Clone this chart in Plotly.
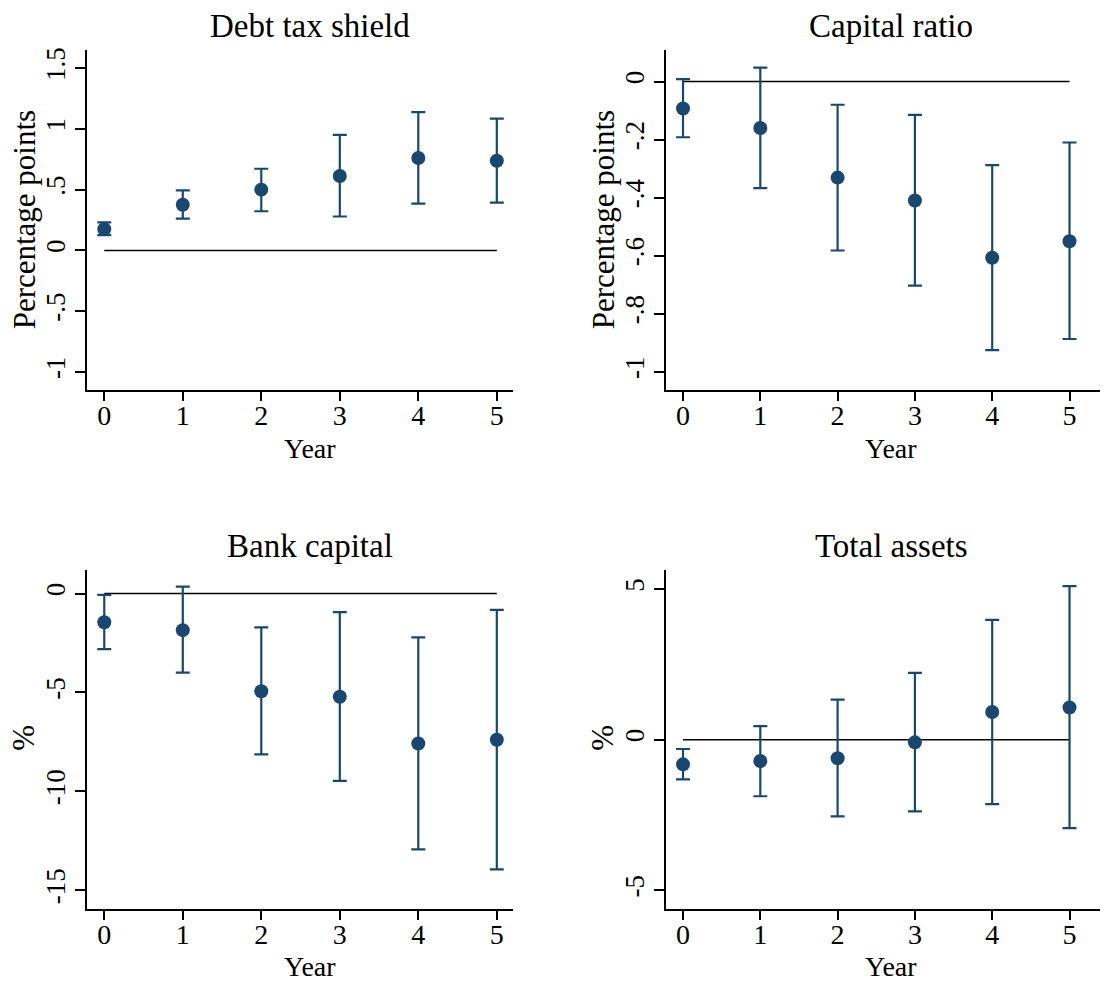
import plotly.graph_objects as go

years = [0, 1, 2, 3, 4, 5]

# Debt tax shield (percentage points)
dts_est = [0.175, 0.375, 0.50, 0.612, 0.76, 0.738]
dts_hi = [0.23, 0.494, 0.672, 0.951, 1.137, 1.085]
dts_lo = [0.125, 0.262, 0.322, 0.279, 0.385, 0.393]

# Capital ratio (percentage points)
cr_est = [-0.093, -0.160, -0.331, -0.410, -0.607, -0.550]
cr_hi = [0.008, 0.048, -0.080, -0.115, -0.288, -0.210]
cr_lo = [-0.192, -0.367, -0.582, -0.703, -0.925, -0.887]

# Bank capital (%)
bc_est = [-1.45, -1.85, -4.94, -5.22, -7.58, -7.39]
bc_hi = [-0.07, 0.35, -1.71, -0.94, -2.22, -0.83]
bc_lo = [-2.81, -4.00, -8.13, -9.47, -12.93, -13.94]

# Total assets (%)
ta_est = [-0.82, -0.71, -0.62, -0.09, 0.92, 1.07]
ta_hi = [-0.31, 0.45, 1.33, 2.22, 3.98, 5.10]
ta_lo = [-1.32, -1.88, -2.55, -2.38, -2.14, -2.94]

titles = ["Debt tax shield", "Capital ratio", "Bank capital", "Total assets"]
ytitles = ["Percentage points", "Percentage points", "%", "%"]

yt1_vals = [-1, -0.5, 0, 0.5, 1, 1.5]
yt1_text = ["-1", "-.5", "0", ".5", "1", "1.5"]
yt2_vals = [-1, -0.8, -0.6, -0.4, -0.2, 0]
yt2_text = ["-1", "-.8", "-.6", "-.4", "-.2", "0"]
yt3_vals = [-15, -10, -5, 0]
yt3_text = ["-15", "-10", "-5", "0"]
yt4_vals = [-5, 0, 5]
yt4_text = ["-5", "0", "5"]

NAVY = "#1a476f"
FONT = "Palatino Linotype, Book Antiqua, Palatino, Liberation Serif, serif"
OFF = 8  # page body margin
W, H = 1108 - OFF, 985 - OFF


def px(xp):
    return (xp - OFF) / W


def py(yp):
    return 1 - (yp - OFF) / H


panels = [
    dict(est=dts_est, hi=dts_hi, lo=dts_lo, yr=[-1.145, 1.65], tv=yt1_vals, tt=yt1_text,
         xd=[87, 513.3], yd=[47, 387.7], xr=[-0.22, 5.21]),
    dict(est=cr_est, hi=cr_hi, lo=cr_lo, yr=[-1.061, 0.109], tv=yt2_vals, tt=yt2_text,
         xd=[665.7, 1108], yd=[47, 387.7], xr=[-0.224, 5.498]),
    dict(est=bc_est, hi=bc_hi, lo=bc_lo, yr=[-15.92, 1.21], tv=yt3_vals, tt=yt3_text,
         xd=[87, 513.3], yd=[568.3, 908.3], xr=[-0.22, 5.21]),
    dict(est=ta_est, hi=ta_hi, lo=ta_lo, yr=[-5.61, 5.65], tv=yt4_vals, tt=yt4_text,
         xd=[665.7, 1108], yd=[568.3, 908.3], xr=[-0.224, 5.498]),
]

fig = go.Figure()
layout = dict(
    width=W, height=H, margin=dict(l=0, r=0, t=0, b=0),
    paper_bgcolor="white", plot_bgcolor="white", showlegend=False,
    font=dict(family=FONT, color="black", size=27),
)
annotations = []
for i, p in enumerate(panels):
    n = i + 1
    xa = "x" if n == 1 else f"x{n}"
    ya = "y" if n == 1 else f"y{n}"
    fig.add_trace(go.Scatter(
        x=[years[0], years[-1]], y=[0, 0], mode="lines",
        line=dict(color="black", width=1.5), xaxis=xa, yaxis=ya, hoverinfo="skip"))
    fig.add_trace(go.Scatter(
        x=years, y=p["est"], mode="markers",
        marker=dict(color=NAVY, size=14),
        error_y=dict(type="data", symmetric=False,
                     array=[h - e for h, e in zip(p["hi"], p["est"])],
                     arrayminus=[e - l for e, l in zip(p["est"], p["lo"])],
                     color=NAVY, thickness=2.2, width=7),
        xaxis=xa, yaxis=ya))
    xdom = [px(p["xd"][0]), min(1.0, px(p["xd"][1]))]
    ydom = [py(p["yd"][1]), py(p["yd"][0])]
    layout["xaxis" if n == 1 else f"xaxis{n}"] = dict(
        domain=xdom, range=p["xr"], anchor=ya, showgrid=False, zeroline=False,
        showline=True, linecolor="black", linewidth=1.5, ticks="outside",
        ticklen=10, tickwidth=1.5, tickcolor="black", tickvals=years,
        ticktext=[str(y) for y in years], ticklabelstandoff=-10,
        tickfont=dict(size=28, family=FONT))
    layout["yaxis" if n == 1 else f"yaxis{n}"] = dict(
        domain=ydom, range=p["yr"], anchor=xa, showgrid=False, zeroline=False,
        showline=True, linecolor="black", linewidth=1.5, ticks="outside",
        ticklen=10, tickwidth=1.5, tickcolor="black", tickvals=p["tv"],
        ticktext=p["tt"], tickangle=-90, ticklabelstandoff=-1,
        tickfont=dict(size=27, family=FONT))
    tx = 310 if p["xd"][0] < 300 else 891
    ty = 23 if p["yd"][0] < 300 else 545
    annotations.append(dict(text=titles[i], x=px(tx), y=py(ty), xref="paper", yref="paper",
                            xanchor="center", yanchor="middle", showarrow=False,
                            font=dict(size=33, family=FONT)))
    yy = 447 if p["yd"][0] < 300 else 966
    annotations.append(dict(text="Year", x=px(tx), y=py(yy), xref="paper", yref="paper",
                            xanchor="center", yanchor="middle", showarrow=False,
                            font=dict(size=28, family=FONT)))
    ax = 24 if p["xd"][0] < 300 else 603
    ay = 217 if p["yd"][0] < 300 else 737
    annotations.append(dict(text=ytitles[i], x=px(ax), y=py(ay), xref="paper", yref="paper",
                            xanchor="center", yanchor="middle", textangle=-90, showarrow=False,
                            font=dict(size=31, family=FONT)))

layout["annotations"] = annotations
fig.update_layout(**layout)
fig.write_html("out.html")
